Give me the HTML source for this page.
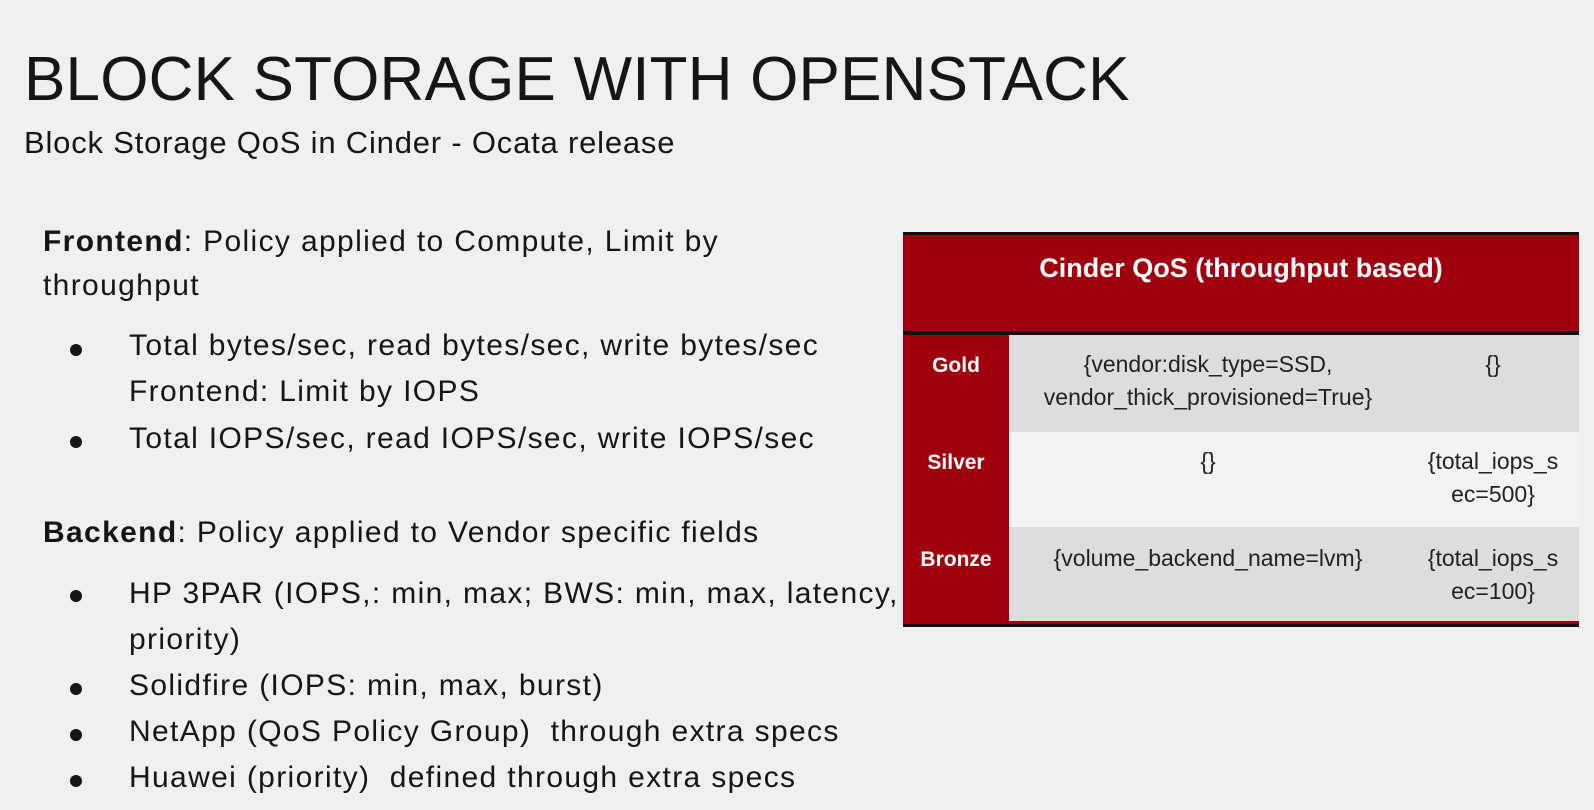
<!DOCTYPE html>
<html><head><meta charset="utf-8"><style>
body{margin:0;width:1594px;height:810px;background:#eef1ee;font-family:"Liberation Sans",sans-serif;color:#151515;position:relative;overflow:hidden}
.t{position:absolute;white-space:nowrap}
h1{position:absolute;left:24px;top:44px;margin:0;font-weight:400;font-size:62px;letter-spacing:0.2px;line-height:72px}
.b{font-size:30px;line-height:34px;letter-spacing:1.35px}
.dot{position:absolute;left:70px;width:12px;height:12px;border-radius:50%;background:#151515}
.tab{position:absolute;left:903px;top:232px;width:676px;height:389px;background:#a0000e;border-top:3px solid #111;border-bottom:3px solid #111}
.hl{position:absolute;left:0;top:96px;width:676px;height:4px;background:#111}
.c{position:absolute;font-size:23px;line-height:33px;text-align:center;color:#222}
.lab{position:absolute;left:0;width:106px;text-align:center;color:#fff;font-weight:bold;font-size:21px}
</style></head><body>
<h1>BLOCK STORAGE WITH OPENSTACK</h1>
<div class="t" style="left:24px;top:125px;font-size:31px;letter-spacing:0.8px">Block Storage QoS in Cinder - Ocata release</div>
<div class="t b" style="left:43px;top:225px"><b>Frontend</b>: Policy applied to Compute, Limit by</div>
<div class="t b" style="left:43px;top:269px">throughput</div>
<div class="dot" style="top:344px"></div>
<div class="t b" style="left:129px;top:329px">Total bytes/sec, read bytes/sec, write bytes/sec</div>
<div class="t b" style="left:129px;top:375px">Frontend: Limit by IOPS</div>
<div class="dot" style="top:436px"></div>
<div class="t b" style="left:129px;top:422px">Total IOPS/sec, read IOPS/sec, write IOPS/sec</div>
<div class="t b" style="left:43px;top:516px"><b>Backend</b>: Policy applied to Vendor specific fields</div>
<div class="dot" style="top:590px"></div>
<div class="t b" style="left:129px;top:577px">HP 3PAR (IOPS,: min, max; BWS: min, max, latency,</div>
<div class="t b" style="left:129px;top:623px">priority)</div>
<div class="dot" style="top:683px"></div>
<div class="t b" style="left:129px;top:669px">Solidfire (IOPS: min, max, burst)</div>
<div class="dot" style="top:729px"></div>
<div class="t b" style="left:129px;top:715px">NetApp (QoS Policy Group)&nbsp; through extra specs</div>
<div class="dot" style="top:775px"></div>
<div class="t b" style="left:129px;top:761px">Huawei (priority)&nbsp; defined through extra specs</div>

<div class="tab">
 <div class="t" style="left:0;width:676px;top:18px;text-align:center;color:#fff;font-weight:bold;font-size:27px">Cinder QoS (throughput based)</div>
 <div class="hl"></div>
 <div style="position:absolute;left:106px;top:100px;width:570px;height:97px;background:#dcdedb"></div>
 <div style="position:absolute;left:106px;top:197px;width:570px;height:95px;background:#f2f4f1"></div>
 <div style="position:absolute;left:106px;top:292px;width:570px;height:94px;background:#dcdedb"></div>
 <div class="lab" style="top:119px">Gold</div>
 <div class="lab" style="top:216px">Silver</div>
 <div class="lab" style="top:313px">Bronze</div>
 <div class="c" style="left:106px;width:398px;top:113px">{vendor:disk_type=SSD,<br>vendor_thick_provisioned=True}</div>
 <div class="c" style="left:504px;width:172px;top:113px">{}</div>
 <div class="c" style="left:106px;width:398px;top:210px">{}</div>
 <div class="c" style="left:504px;width:172px;top:210px">{total_iops_s<br>ec=500}</div>
 <div class="c" style="left:106px;width:398px;top:307px">{volume_backend_name=lvm}</div>
 <div class="c" style="left:504px;width:172px;top:307px">{total_iops_s<br>ec=100}</div>
</div>
</body></html>
